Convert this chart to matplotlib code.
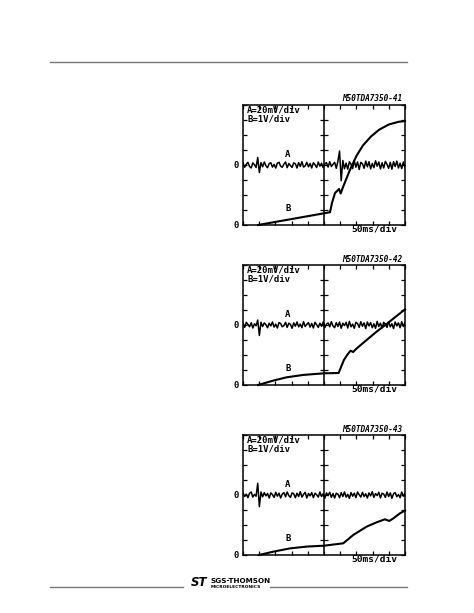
import numpy as np
import matplotlib
matplotlib.use('Agg')
import matplotlib.pyplot as plt

# Chart data (divisions: x 0..10, y 0..8; trace A sits on the centre line y=4)
codes = ['M50TDA7350-41', 'M50TDA7350-42', 'M50TDA7350-43']
scale_a = 'A=20mV/div'
scale_b = 'B=1V/div'
time_label = '50ms/div'

# trace A: deviation from its zero line, one value per 0.1 div
a1 = [0.12, -0.15, 0.05, 0.18, -0.10, -0.20, 0.14, 0.02, -0.16, 0.50, -0.50, 0.16, -0.12, 0.20, -0.05, -0.18, 0.10, 0.15, -0.14, 0.04,
      -0.20, 0.12, 0.18, -0.08, -0.15, 0.06, 0.20, -0.18, 0.10, -0.04, -0.16, 0.14, 0.08, -0.20, 0.16, -0.10, 0.22, -0.14, -0.06, 0.18,
      -0.12, 0.10, -0.20, 0.15, 0.02, -0.17, 0.20, -0.08, 0.12, -0.18, 0.06, 0.16, -0.14, 0.22, -0.10, 0.05, 0.18, -0.22, 0.25, 0.93,
      -1.05, 0.30, -0.25, 0.12, -0.28, 0.22, 0.05, -0.24, 0.28, -0.15, 0.20, -0.30, 0.18, 0.08, -0.22, 0.26, -0.12, 0.22, -0.26, 0.10,
      -0.18, 0.28, -0.08, 0.20, -0.26, 0.15, -0.20, 0.24, 0.04, -0.22, 0.18, -0.28, 0.22, -0.10, 0.26, -0.20, 0.12, -0.24, 0.20, -0.15]
a2 = [0.10, -0.16, 0.18, 0.04, -0.12, 0.15, -0.20, 0.08, -0.05, 0.33, -0.70, 0.18, -0.10, 0.14, 0.02, -0.18, 0.12, -0.06, 0.20, -0.14,
      0.06, -0.20, 0.16, 0.10, -0.12, -0.04, 0.18, -0.16, 0.12, 0.04, -0.22, 0.14, -0.08, 0.20, -0.12, 0.06, -0.18, 0.22, -0.10, 0.04,
      0.16, -0.14, 0.10, -0.20, 0.18, 0.02, -0.16, 0.12, -0.08, 0.20, -0.18, 0.06, 0.14, -0.12, 0.22, -0.06, -0.18, 0.16, -0.10, 0.20,
      -0.22, 0.12, -0.04, 0.18, -0.20, 0.24, -0.12, 0.06, -0.22, 0.18, 0.10, -0.16, 0.22, -0.08, 0.14, -0.24, 0.20, -0.06, 0.16, -0.18,
      0.08, -0.22, 0.24, -0.10, 0.12, -0.20, 0.18, 0.04, -0.16, 0.22, -0.12, 0.08, -0.24, 0.20, -0.06, 0.14, -0.18, 0.22, -0.10, 0.16]
a3 = [0.14, -0.10, 0.06, -0.18, 0.12, 0.20, -0.14, 0.04, -0.08, 0.78, -0.78, 0.20, -0.12, 0.16, -0.06, 0.10, -0.20, 0.14, 0.02, -0.16,
      0.18, -0.08, 0.12, -0.20, 0.06, 0.16, -0.12, 0.20, -0.04, -0.16, 0.14, 0.08, -0.18, 0.12, -0.10, 0.22, -0.14, 0.04, 0.18, -0.20,
      0.10, -0.06, 0.16, -0.18, 0.12, 0.02, -0.14, 0.20, -0.10, 0.08, -0.22, 0.14, -0.04, 0.18, -0.16, 0.10, -0.20, 0.12, 0.06, -0.18,
      0.16, -0.10, 0.20, -0.14, 0.04, -0.22, 0.16, -0.08, 0.12, -0.18, 0.20, 0.02, -0.14, 0.18, -0.10, 0.08, -0.20, 0.14, -0.06, 0.22,
      -0.16, 0.10, -0.04, 0.18, -0.20, 0.12, 0.06, -0.16, 0.20, -0.10, 0.14, -0.22, 0.08, 0.16, -0.12, 0.04, -0.18, 0.20, -0.08, 0.12]

# trace B: (time div, level div)
bx1 = [0.93, 5.0, 5.37, 5.5, 5.68, 5.93, 6.03, 6.2, 6.6, 7.0, 7.4, 7.9, 8.4, 9.0, 9.6, 10.0]
by1 = [0.0, 0.78, 0.85, 1.5, 2.13, 2.4, 2.1, 2.6, 3.67, 4.6, 5.3, 5.9, 6.35, 6.7, 6.88, 6.93]
bx2 = [0.93, 1.86, 2.68, 3.71, 5.0, 5.9, 6.02, 6.23, 6.43, 6.64, 6.8, 7.0, 7.63, 8.25, 8.87, 9.48, 10.0]
by2 = [0.0, 0.29, 0.51, 0.67, 0.78, 0.8, 1.11, 1.67, 2.0, 2.29, 2.2, 2.42, 3.0, 3.56, 4.07, 4.6, 5.04]
bx3 = [0.99, 1.86, 2.89, 3.92, 5.0, 6.19, 6.8, 7.63, 8.25, 8.76, 9.03, 9.28, 9.69, 10.0]
by3 = [0.0, 0.22, 0.44, 0.56, 0.62, 0.78, 1.33, 1.89, 2.18, 2.38, 2.27, 2.44, 2.78, 2.96]

W, H = 474, 613
fig = plt.figure(figsize=(W / 100, H / 100), dpi=100)

# page decorations in pixel coordinates
bg = fig.add_axes([0, 0, 1, 1])
bg.set_xlim(0, W)
bg.set_ylim(H, 0)
bg.axis('off')
bg.plot([50, 407], [61.5, 61.5], color='#777777', lw=1.0)
bg.plot([50, 183], [587, 587], color='#777777', lw=1.0)
bg.plot([270, 407], [587, 587], color='#777777', lw=1.0)
bg.text(199, 583, 'ST', fontsize=8.5, fontweight='bold', style='italic', ha='center', va='center',
        family='DejaVu Sans')
bg.text(211, 581, 'SGS-THOMSON', fontsize=5.2, fontweight='bold', ha='left', va='center', family='DejaVu Sans')
bg.text(211, 587, 'MICROELECTRONICS', fontsize=3.2, fontweight='bold', ha='left', va='center', family='DejaVu Sans')

tops = [105, 265, 435]
traces_a = [a1, a2, a3]
traces_b = [(bx1, by1), (bx2, by2), (bx3, by3)]
mono = 'DejaVu Sans Mono'

for top, code, a, (bx, by) in zip(tops, codes, traces_a, traces_b):
    ax = fig.add_axes([243 / W, 1 - (top + 120) / H, 162 / W, 120 / H])
    ax.set_xlim(0, 10)
    ax.set_ylim(0, 8)
    for s in ax.spines.values():
        s.set_linewidth(1.1)
    ax.set_xticks(np.arange(0, 11))
    ax.set_yticks(np.arange(0, 9))
    ax.tick_params(direction='in', length=3, width=0.9, top=True, right=True,
                   labelbottom=False, labelleft=False)
    # centre graticule line with its division marks
    ax.axvline(5, color='black', lw=1.1)
    ax.plot([5] * 7, np.arange(1, 8), ls='none', marker='_', ms=6, mew=0.9, color='black')

    xa = np.linspace(0, 10, len(a))
    ax.plot(xa, 4 + np.array(a), color='black', lw=1.1)
    ax.plot(bx, by, color='black', lw=1.5, clip_on=False)

    ax.text(0.25, 7.67, scale_a, fontsize=6.5, family=mono, fontweight='bold', va='center', ha='left')
    ax.text(0.25, 7.05, scale_b, fontsize=6.5, family=mono, fontweight='bold', va='center', ha='left')
    ax.text(2.78, 4.73, 'A', fontsize=6.5, family=mono, fontweight='bold', va='center', ha='center')
    ax.text(2.78, 1.13, 'B', fontsize=6.5, family=mono, fontweight='bold', va='center', ha='center')
    ax.text(-0.4, 4, '0', fontsize=6.5, family=mono, fontweight='bold', va='center', ha='center', clip_on=False)
    ax.text(-0.4, 0, '0', fontsize=6.5, family=mono, fontweight='bold', va='center', ha='center', clip_on=False)
    ax.text(8.1, -0.3, time_label, fontsize=6.8, family=mono, fontweight='bold', va='center', ha='center',
            clip_on=False)
    ax.text(9.85, 8.4, code, fontsize=5.6, family=mono, fontweight='bold', style='italic',
            va='center', ha='right', clip_on=False)

fig.savefig('out.png', dpi=100)
